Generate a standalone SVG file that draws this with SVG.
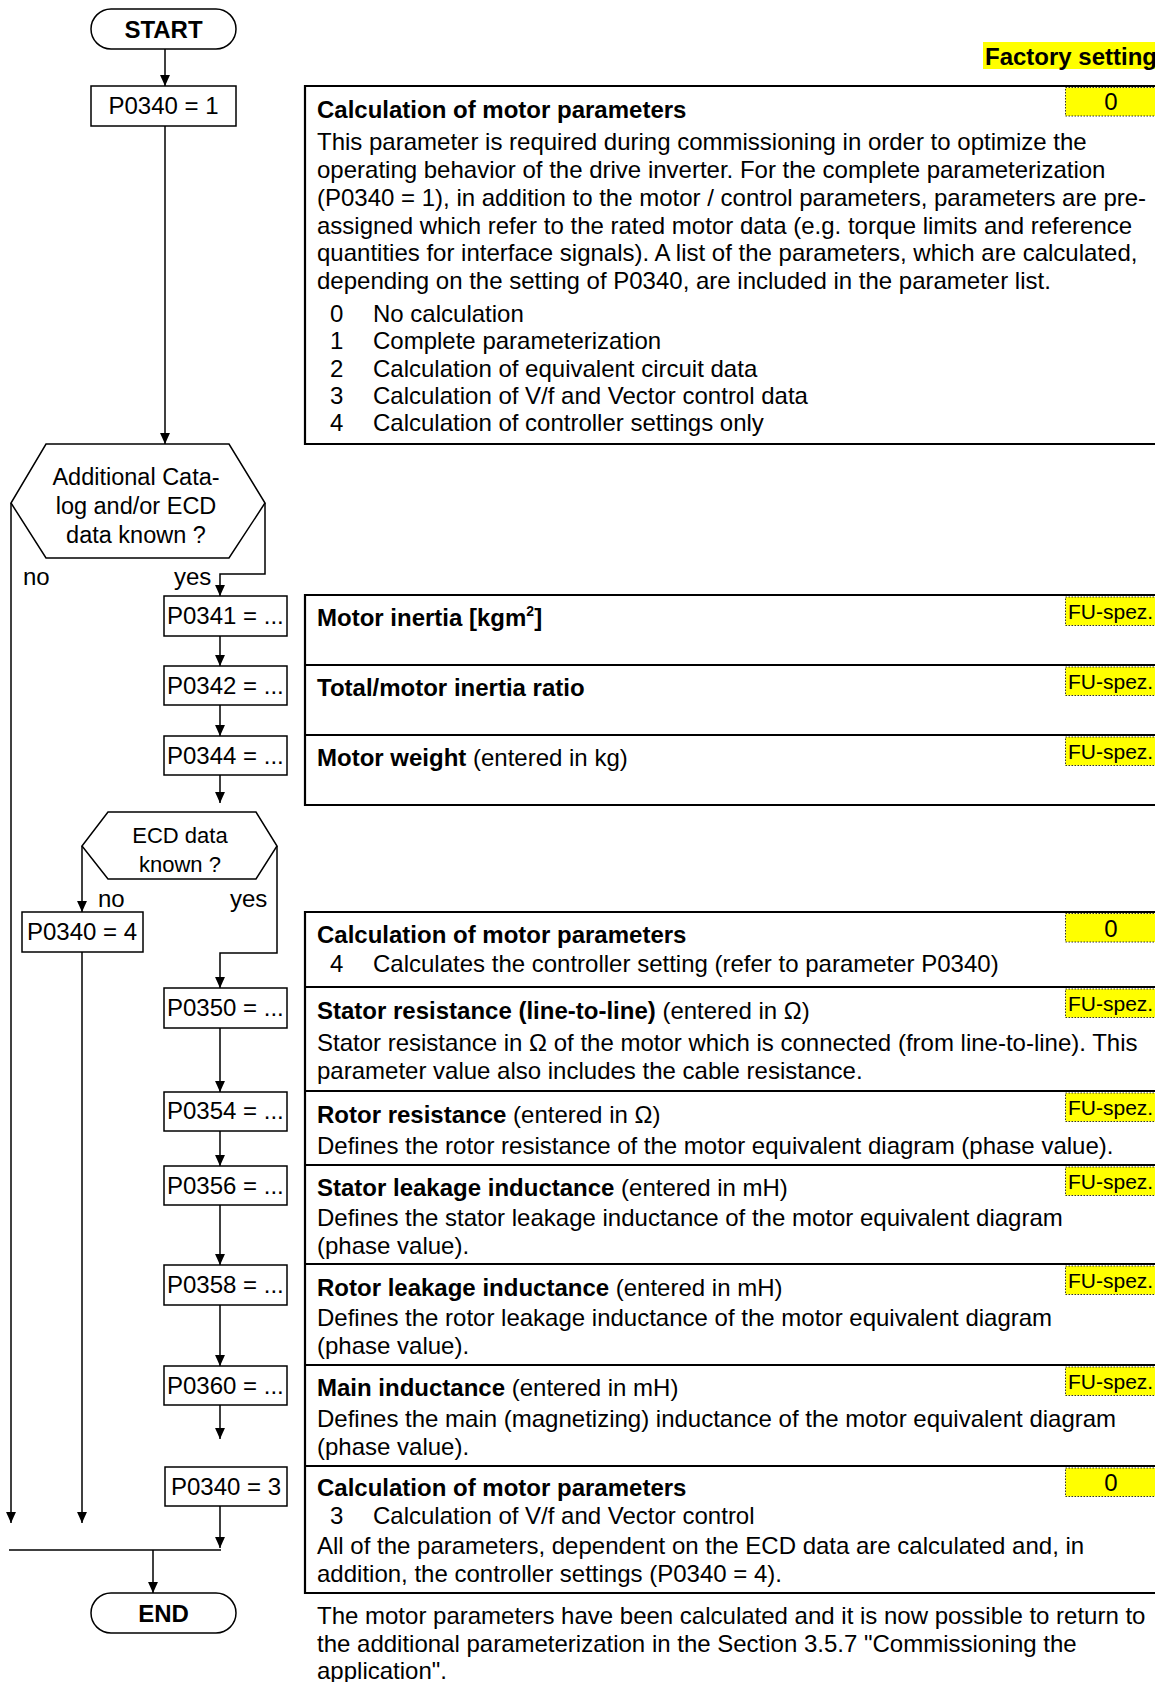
<svg xmlns="http://www.w3.org/2000/svg" width="1155" height="1682" viewBox="0 0 1155 1682">
<defs>
<marker id="ah" viewBox="0 0 10 10" refX="10" refY="5" markerWidth="12" markerHeight="11" markerUnits="userSpaceOnUse" orient="auto">
<path d="M0,0.5 L10,5 L0,9.5 z" fill="#000"/>
</marker>
<style>
text{font-family:"Liberation Sans",Arial,sans-serif;fill:#000}
.t{font-size:24px}
.b{font-size:24px;font-weight:bold}
.s{font-size:21px}
.box{fill:#fff;stroke:#000;stroke-width:1.5}
.pill{fill:#fff;stroke:#000;stroke-width:1.5}
.hex{fill:#fff;stroke:#000;stroke-width:1.5}
.con{fill:none;stroke:#000;stroke-width:1.5}
.arr{fill:none;stroke:#000;stroke-width:1.5;marker-end:url(#ah)}
.pl{fill:none;stroke:#000;stroke-width:2.2}
.y{fill:#ffff00}
.yd{fill:#ffff00;stroke:#333;stroke-width:1;stroke-dasharray:1.5,1.5}
.c{text-anchor:middle}
</style>
</defs>
<rect width="1155" height="1682" fill="#fff"/>

<!-- Connectors -->
<g id="connectors">
<path class="arr" d="M165,49 V86"/>
<path class="arr" d="M165,126 V444"/>
<path class="arr" d="M265,503 V574 H220 V596"/>
<path class="arr" d="M11,503 V1523"/>
<path class="arr" d="M220,636 V666"/>
<path class="arr" d="M220,705 V736"/>
<path class="arr" d="M220,775 V803"/>
<path class="arr" d="M82,846 V912"/>
<path class="arr" d="M277,846 V953 H220 V988"/>
<path class="arr" d="M82,952 V1523"/>
<path class="arr" d="M220,1028 V1092"/>
<path class="arr" d="M220,1131 V1166"/>
<path class="arr" d="M220,1205 V1265"/>
<path class="arr" d="M220,1305 V1366"/>
<path class="arr" d="M220,1405 V1439"/>
<path class="arr" d="M220,1506 V1548"/>
<path class="con" d="M9,1550 H221"/>
<path class="arr" d="M153,1550 V1593"/>
<text class="t" x="23" y="585">no</text>
<text class="t" x="174" y="585">yes</text>
<text class="t" x="98" y="907">no</text>
<text class="t" x="230" y="907">yes</text>
</g>

<!-- Flowchart nodes -->
<g id="start">
<rect class="pill" x="91" y="9" width="145" height="40" rx="20"/>
<text class="b c" x="163.5" y="38">START</text>
</g>
<g id="p0340_1">
<rect class="box" x="91" y="86" width="145" height="40"/>
<text class="t c" x="163.5" y="114">P0340 = 1</text>
</g>
<g id="dec_catalog">
<polygon class="hex" points="46,444 229,444 265,503 229,558 46,558 11,503"/>
<text class="c" style="font-size:23.5px" x="136" y="485">Additional Cata-</text>
<text class="c" style="font-size:23.5px" x="136" y="514">log and/or ECD</text>
<text class="c" style="font-size:23.5px" x="136" y="543">data known ?</text>
</g>
<g id="p0341">
<rect class="box" x="164" y="596" width="123" height="40"/>
<text class="t" x="167" y="624">P0341 = ...</text>
</g>
<g id="p0342">
<rect class="box" x="164" y="666" width="123" height="39"/>
<text class="t" x="167" y="694">P0342 = ...</text>
</g>
<g id="p0344">
<rect class="box" x="164" y="736" width="123" height="39"/>
<text class="t" x="167" y="764">P0344 = ...</text>
</g>
<g id="dec_ecd">
<polygon class="hex" points="108,812 256,812 277,846 256,879 108,879 82,846"/>
<text class="c" style="font-size:22px" x="180" y="843">ECD data</text>
<text class="c" style="font-size:22px" x="180" y="872">known ?</text>
</g>
<g id="p0340_4">
<rect class="box" x="22" y="912" width="121" height="40"/>
<text class="t" x="27" y="940">P0340 = 4</text>
</g>
<g id="p0350">
<rect class="box" x="164" y="988" width="123" height="40"/>
<text class="t" x="167" y="1016">P0350 = ...</text>
</g>
<g id="p0354">
<rect class="box" x="164" y="1092" width="123" height="39"/>
<text class="t" x="167" y="1119">P0354 = ...</text>
</g>
<g id="p0356">
<rect class="box" x="164" y="1166" width="123" height="39"/>
<text class="t" x="167" y="1194">P0356 = ...</text>
</g>
<g id="p0358">
<rect class="box" x="164" y="1265" width="123" height="40"/>
<text class="t" x="167" y="1293">P0358 = ...</text>
</g>
<g id="p0360">
<rect class="box" x="164" y="1366" width="123" height="39"/>
<text class="t" x="167" y="1394">P0360 = ...</text>
</g>
<g id="p0340_3">
<rect class="box" x="165" y="1467" width="122" height="39"/>
<text class="t" x="171" y="1495">P0340 = 3</text>
</g>
<g id="end">
<rect class="pill" x="91" y="1593" width="145" height="40" rx="20"/>
<text class="b c" x="163.5" y="1622">END</text>
</g>

<!-- Factory setting header -->
<g id="factory">
<rect class="y" x="983" y="42" width="172" height="27"/>
<text class="b" x="985" y="65">Factory setting</text>
</g>

<!-- Panel 1 -->
<g id="panel_p0340">
<path class="pl" d="M1155,86 H305 V444 H1155"/>
<rect class="yd" x="1065.5" y="87.5" width="90" height="28.5"/>
<text class="t c" x="1111" y="110">0</text>
<text class="b" x="317" y="118">Calculation of motor parameters</text>
<text class="t" x="317" y="150">This parameter is required during commissioning in order to optimize the</text>
<text class="t" x="317" y="178">operating behavior of the drive inverter. For the complete parameterization</text>
<text class="t" x="317" y="206">(P0340 = 1), in addition to the motor / control parameters, parameters are pre-</text>
<text class="t" x="317" y="234">assigned which refer to the rated motor data (e.g. torque limits and reference</text>
<text class="t" x="317" y="261">quantities for interface signals). A list of the parameters, which are calculated,</text>
<text class="t" x="317" y="289">depending on the setting of P0340, are included in the parameter list.</text>
<text class="t" x="330" y="322">0</text><text class="t" x="373" y="322">No calculation</text>
<text class="t" x="330" y="349">1</text><text class="t" x="373" y="349">Complete parameterization</text>
<text class="t" x="330" y="377">2</text><text class="t" x="373" y="377">Calculation of equivalent circuit data</text>
<text class="t" x="330" y="404">3</text><text class="t" x="373" y="404">Calculation of V/f and Vector control data</text>
<text class="t" x="330" y="431">4</text><text class="t" x="373" y="431">Calculation of controller settings only</text>
</g>

<!-- Panel 2 -->
<g id="panel_p0341">
<path class="pl" d="M1155,595 H305 V805 H1155 M305,665 H1155 M305,735 H1155"/>
<rect class="yd" x="1065.5" y="597" width="90" height="28.5"/>
<text class="s" x="1068" y="619">FU-spez.</text>
<text class="b" x="317" y="626">Motor inertia [kgm<tspan style="font-size:14px" dy="-10">2</tspan><tspan dy="10">]</tspan></text>
</g>
<g id="panel_p0342">
<rect class="yd" x="1065.5" y="667" width="90" height="28.5"/>
<text class="s" x="1068" y="689">FU-spez.</text>
<text class="b" x="317" y="696">Total/motor inertia ratio</text>
</g>
<g id="panel_p0344">
<rect class="yd" x="1065.5" y="737" width="90" height="28.5"/>
<text class="s" x="1068" y="759">FU-spez.</text>
<text class="t" x="317" y="766"><tspan font-weight="bold">Motor weight</tspan> (entered in kg)</text>
</g>

<!-- Panel 3 -->
<g id="panel_p0340_4">
<path class="pl" d="M1155,912 H305 V1593 H1155 M305,987 H1155 M305,1091 H1155 M305,1165 H1155 M305,1264 H1155 M305,1365 H1155 M305,1466 H1155"/>
<rect class="yd" x="1065.5" y="913.5" width="90" height="28.5"/>
<text class="t c" x="1111" y="937">0</text>
<text class="b" x="317" y="943">Calculation of motor parameters</text>
<text class="t" x="330" y="972">4</text><text class="t" x="373" y="972">Calculates the controller setting (refer to parameter P0340)</text>
</g>
<g id="panel_p0350">
<rect class="yd" x="1065.5" y="989" width="90" height="28.5"/>
<text class="s" x="1068" y="1011">FU-spez.</text>
<text class="t" x="317" y="1019"><tspan font-weight="bold">Stator resistance (line-to-line)</tspan> (entered in Ω)</text>
<text class="t" x="317" y="1051">Stator resistance in Ω of the motor which is connected (from line-to-line). This</text>
<text class="t" x="317" y="1079">parameter value also includes the cable resistance.</text>
</g>
<g id="panel_p0354">
<rect class="yd" x="1065.5" y="1093" width="90" height="28.5"/>
<text class="s" x="1068" y="1115">FU-spez.</text>
<text class="t" x="317" y="1123"><tspan font-weight="bold">Rotor resistance</tspan> (entered in Ω)</text>
<text class="t" x="317" y="1154">Defines the rotor resistance of the motor equivalent diagram (phase value).</text>
</g>
<g id="panel_p0356">
<rect class="yd" x="1065.5" y="1167" width="90" height="28.5"/>
<text class="s" x="1068" y="1189">FU-spez.</text>
<text class="t" x="317" y="1196"><tspan font-weight="bold">Stator leakage inductance</tspan> (entered in mH)</text>
<text class="t" x="317" y="1226">Defines the stator leakage inductance of the motor equivalent diagram</text>
<text class="t" x="317" y="1254">(phase value).</text>
</g>
<g id="panel_p0358">
<rect class="yd" x="1065.5" y="1266" width="90" height="28.5"/>
<text class="s" x="1068" y="1288">FU-spez.</text>
<text class="t" x="317" y="1296"><tspan font-weight="bold">Rotor leakage inductance</tspan> (entered in mH)</text>
<text class="t" x="317" y="1326">Defines the rotor leakage inductance of the motor equivalent diagram</text>
<text class="t" x="317" y="1354">(phase value).</text>
</g>
<g id="panel_p0360">
<rect class="yd" x="1065.5" y="1367" width="90" height="28.5"/>
<text class="s" x="1068" y="1389">FU-spez.</text>
<text class="t" x="317" y="1396"><tspan font-weight="bold">Main inductance</tspan> (entered in mH)</text>
<text class="t" x="317" y="1427">Defines the main (magnetizing) inductance of the motor equivalent diagram</text>
<text class="t" x="317" y="1455">(phase value).</text>
</g>
<g id="panel_p0340_3">
<rect class="yd" x="1065.5" y="1468" width="90" height="28.5"/>
<text class="t c" x="1111" y="1491">0</text>
<text class="b" x="317" y="1496">Calculation of motor parameters</text>
<text class="t" x="330" y="1524">3</text><text class="t" x="373" y="1524">Calculation of V/f and Vector control</text>
<text class="t" x="317" y="1554">All of the parameters, dependent on the ECD data are calculated and, in</text>
<text class="t" x="317" y="1582">addition, the controller settings (P0340 = 4).</text>
</g>
<g id="footer">
<text class="t" x="317" y="1624">The motor parameters have been calculated and it is now possible to return to</text>
<text class="t" x="317" y="1652">the additional parameterization in the Section 3.5.7 "Commissioning the</text>
<text class="t" x="317" y="1679">application".</text>
</g>
</svg>
